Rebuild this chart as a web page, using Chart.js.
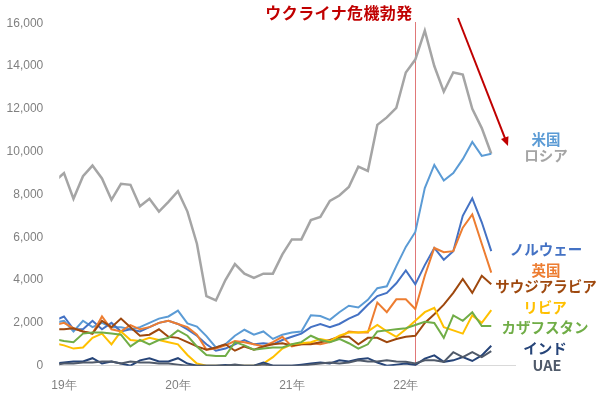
<!DOCTYPE html>
<html>
<head>
<meta charset="utf-8">
<script src="https://cdn.jsdelivr.net/npm/chart.js@4.4.0/dist/chart.umd.min.js"></script>
<style>
  html, body { margin: 0; padding: 0; background: #fff; }
  #wrap { position: relative; width: 600px; height: 393px; }
  #chart { position: absolute; left: 0; top: 0; }
  .lbl {
    position: absolute;
    transform: translate(-50%, -50%);
    font-family: "Noto Sans CJK JP", sans-serif;
    font-weight: bold;
    font-size: 14.5px;
    line-height: 1;
    white-space: nowrap;
  }
  #title { font-size: 16px; color: #c00000; letter-spacing: 0.4px; }
</style>
</head>
<body>
<div id="wrap">
  <canvas id="chart" width="600" height="393"></canvas>
  <div class="lbl" id="title" style="left:339px; top:12px;">ウクライナ危機勃発</div>
  <div class="lbl" style="left:546px; top:139px; color:#5b9bd5;">米国</div>
  <div class="lbl" style="left:546px; top:155px; color:#a5a5a5;">ロシア</div>
  <div class="lbl" style="left:546px; top:249px; color:#4472c4;">ノルウェー</div>
  <div class="lbl" style="left:546px; top:270px; color:#ed7d31;">英国</div>
  <div class="lbl" style="left:546px; top:286px; color:#9e480e;">サウジアラビア</div>
  <div class="lbl" style="left:545px; top:307px; color:#ffc000;">リビア</div>
  <div class="lbl" style="left:545px; top:327px; color:#70ad47;">カザフスタン</div>
  <div class="lbl" style="left:545px; top:348px; color:#264478;">インド</div>
  <div class="lbl" style="left:547px; top:365px; color:#505a6a;">UAE</div>
</div>
<script>
// monthly values, Dec 2018 (index -1) .. Oct 2022 (index 45)
const russia = [8600, 9000, 7800, 8850, 9350, 8750, 7750, 8500, 8450, 7450, 7800, 7200, 7650, 8150,
  7200, 5700, 3250, 3050, 4000, 4750, 4300, 4100, 4300, 4300, 5200, 5900,
  5900, 6800, 6950, 7700, 7950, 8350, 9300, 9100, 11250, 11600, 12050, 13700,
  14300, 15650, 14000, 12800, 13700, 13600, 12000, 11100, 9900];
const usa = [2000, 2100, 1600, 2100, 1800, 2000, 1800, 1800, 1700, 1800, 2000, 2200, 2300, 2570,
  1975, 1830, 1380, 850, 1000, 1400, 1680, 1450, 1600, 1250, 1450, 1550,
  1600, 2360, 2320, 2140, 2500, 2800, 2720, 3080, 3620, 3710, 4650, 5550,
  6250, 8300, 9380, 8650, 9000, 9650, 10450, 9800, 9900];
const norway = [2100, 2300, 1700, 1700, 2100, 1700, 2000, 1600, 1700, 1600, 1800, 2000, 2100, 1950,
  1700, 1400, 1000, 700, 800, 1000, 1200, 1000, 1050, 1000, 1200, 1350,
  1500, 1800, 1950, 1800, 1950, 2200, 2400, 2850, 3250, 3400, 3850, 4450,
  3800, 4700, 5500, 4950, 5350, 7000, 7820, 6700, 5350];
const uk = [1900, 2000, 1750, 1600, 1500, 2300, 1700, 1600, 1900, 1700, 1800, 2000, 2100, 1950,
  1800, 1450, 750, 800, 950, 1150, 1100, 1000, 900, 1100, 1350, 900,
  1000, 1050, 1000, 1100, 1300, 1600, 1550, 1550, 2950, 2500, 3100, 3100,
  2650, 4200, 5500, 5300, 5350, 6450, 7070, 5700, 4350];
const saudi = [1700, 1700, 1750, 1600, 1500, 2100, 1800, 2200, 1800, 1400, 1450, 1700, 1350, 1300,
  1100, 900, 750, 850, 1000, 700, 900, 750, 900, 1000, 1050, 950,
  1000, 1000, 1100, 1200, 1350, 1350, 1000, 1300, 1300, 1100, 1250, 1350,
  1400, 2000, 2400, 2850, 3400, 4050, 3400, 4200, 3800];
const libya = [1050, 950, 800, 850, 1300, 1500, 1000, 1600, 1200, 1150, 1300, 1200, 1100, 1000,
  500, 100, 0, 0, 0, 0, 0, 0, 100, 400, 800, 1000,
  1050, 1100, 1250, 1150, 1400, 1550, 1550, 1600, 1900, 1600, 1350, 1700,
  2100, 2500, 2700, 1800, 1650, 1500, 2350, 2000, 2600];
const kazakh = [1250, 1150, 1100, 1500, 1550, 1550, 1500, 1450, 900, 1200, 1000, 1200, 1300, 1650,
  1400, 900, 500, 450, 450, 1100, 950, 750, 800, 850, 850, 1000,
  1100, 1400, 1200, 1100, 1250, 1050, 800, 1000, 1600, 1650, 1700, 1750,
  1900, 2050, 2000, 1300, 2350, 2100, 2500, 1850, 1850];
const india = [100, 150, 200, 200, 350, 100, 200, 100, 0, 250, 350, 200, 200, 350,
  100, 0, 0, 0, 30, 0, 0, 0, 150, 0, 0, 0,
  50, 100, 150, 100, 250, 200, 300, 350, 150, 0, 50, 100,
  30, 330, 480, 180, 250, 400, 220, 480, 930];
const uae = [50, 100, 100, 150, 150, 200, 200, 100, 200, 150, 150, 100, 100, 50,
  0, 0, 0, 0, 0, 50, 0, 0, 50, 0, 0, 0,
  0, 50, 100, 150, 100, 150, 250, 200, 200, 250, 200, 180,
  100, 250, 250, 180, 630, 400, 630, 400, 680];

const yearTicks = [0, 12, 24, 36];
const yearLabels = ['19年', '20年', '21年', '22年'];
const crisisMonth = 37; // 2022年2月

function pts(arr) {
  return arr.map((v, i) => ({ x: i - 1, y: v }));
}

function series(label, arr, color, width) {
  return {
    label: label,
    data: pts(arr),
    borderColor: color,
    backgroundColor: color,
    borderWidth: width || 2,
    pointRadius: 0,
    tension: 0
  };
}

// red vertical line + arrow
const marks = {
  id: 'marks',
  beforeDatasetsDraw(chart) {
    const ctx = chart.ctx;
    const x = chart.scales.x.getPixelForValue(crisisMonth);
    ctx.save();
    ctx.strokeStyle = '#e07878';
    ctx.lineWidth = 1;
    ctx.beginPath();
    ctx.moveTo(Math.round(x) + 0.5, 22);
    ctx.lineTo(Math.round(x) + 0.5, chart.chartArea.bottom);
    ctx.stroke();
    ctx.restore();
  },
  afterDraw(chart) {
    const ctx = chart.ctx;
    const x1 = 458, y1 = 18, x2 = 508, y2 = 146;
    const ang = Math.atan2(y2 - y1, x2 - x1);
    ctx.save();
    ctx.strokeStyle = '#c00000';
    ctx.fillStyle = '#c00000';
    ctx.lineWidth = 2;
    ctx.beginPath();
    ctx.moveTo(x1, y1);
    ctx.lineTo(x2 - 6 * Math.cos(ang), y2 - 6 * Math.sin(ang));
    ctx.stroke();
    ctx.beginPath();
    ctx.moveTo(x2, y2);
    ctx.lineTo(x2 - 9 * Math.cos(ang) + 4 * Math.sin(ang), y2 - 9 * Math.sin(ang) - 4 * Math.cos(ang));
    ctx.lineTo(x2 - 9 * Math.cos(ang) - 4 * Math.sin(ang), y2 - 9 * Math.sin(ang) + 4 * Math.cos(ang));
    ctx.closePath();
    ctx.fill();
    ctx.restore();
  }
};

new Chart(document.getElementById('chart'), {
  type: 'line',
  data: {
    datasets: [
      series('UAE', uae, '#505a6a'),
      series('インド', india, '#264478'),
      series('カザフスタン', kazakh, '#70ad47'),
      series('リビア', libya, '#ffc000'),
      series('サウジアラビア', saudi, '#9e480e'),
      series('英国', uk, '#ed7d31'),
      series('ノルウェー', norway, '#4472c4'),
      series('米国', usa, '#5b9bd5'),
      series('ロシア', russia, '#a5a5a5', 2.5)
    ]
  },
  options: {
    responsive: false,
    animation: false,
    layout: { padding: { top: 9.3, right: 85, left: 0, bottom: 0 } },
    plugins: { legend: { display: false }, tooltip: { enabled: false } },
    scales: {
      x: {
        type: 'linear',
        min: -0.5,
        max: 47.5,
        grid: { display: false, drawTicks: false },
        border: { display: true, color: '#d9d9d9', width: 1 },
        afterBuildTicks(scale) {
          scale.ticks = yearTicks.map(v => ({ value: v }));
        },
        afterFit(scale) { scale.height = 27.3; },
        ticks: {
          autoSkip: false,
          maxRotation: 0,
          padding: 13,
          color: '#7f7f7f',
          font: { family: 'Liberation Sans', size: 12 },
          callback: (v) => yearLabels[yearTicks.indexOf(v)]
        }
      },
      y: {
        min: 0,
        max: 16000,
        grid: { display: false, drawTicks: false },
        border: { display: false },
        afterFit(scale) { scale.width = 59.25; },
        ticks: {
          stepSize: 2000,
          padding: 16,
          color: '#808080',
          font: { family: 'Liberation Sans', size: 12 },
          callback: (v) => v.toLocaleString('en-US')
        }
      }
    }
  },
  plugins: [marks]
});
</script>
</body>
</html>
